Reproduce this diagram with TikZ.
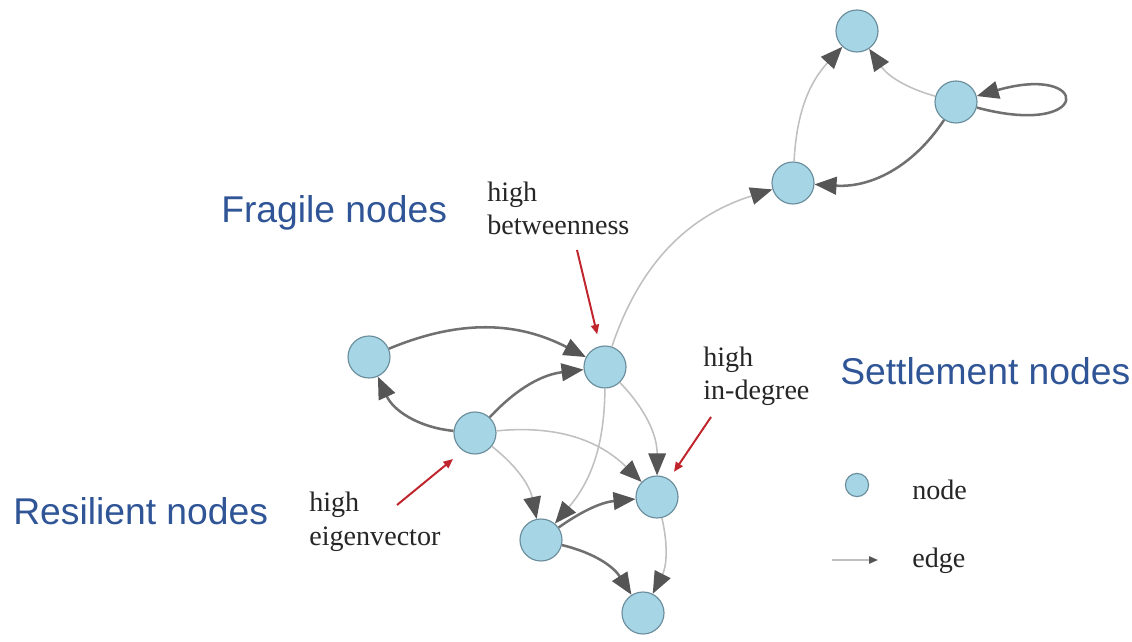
\documentclass[tikz,border=0pt]{standalone}
\usepackage{fontspec}
\setmainfont{Liberation Serif}
\newfontfamily\groupfont{Liberation Sans}
\usetikzlibrary{arrows.meta, positioning}
\definecolor{nodeblue}{RGB}{166, 213, 229}
\definecolor{nodeline}{RGB}{105, 140, 155}
\definecolor{groupblue}{RGB}{47, 85, 151}
\definecolor{strongedge}{RGB}{112, 112, 112}
\definecolor{weakedge}{RGB}{192, 192, 192}
\definecolor{tipgray}{RGB}{85, 85, 85}
\definecolor{pointred}{RGB}{192, 36, 44}

\begin{document}
\begin{tikzpicture}[
    x=0.025cm, y=-0.025cm,
    vertex/.style={circle, draw=nodeline, fill=nodeblue, line width=0.8pt, inner sep=0pt, minimum size=1.05cm},
    strong/.style={draw=strongedge, line width=1.8pt, -{Triangle[length=0.55cm, width=0.44cm, color=tipgray]}},
    weak/.style={draw=weakedge, line width=1.1pt, -{Triangle[length=0.55cm, width=0.44cm, color=tipgray]}},
    pointer/.style={draw=pointred, line width=1.4pt, -{Triangle[length=0.24cm, width=0.2cm]}},
    group/.style={font=\groupfont\fontsize{26.5}{31}\selectfont, text=groupblue, inner sep=0pt, anchor=base west},
    note/.style={font=\fontsize{20}{23.5}\selectfont, text=black!85, align=left, inner sep=0pt, anchor=base west}
]
\useasboundingbox (0,0) rectangle (1132,642);
\fill[white] (0,0) rectangle (1132,642);

% network
\node (tl) [vertex] at (369,357) {};
\node (btw) [vertex] at (605,367) {};
\node (eig) [vertex] at (475,433) {};
\node (indeg) [vertex] at (657,497) {};
\node (lo) [vertex] at (541,540) {};
\node (bot) [vertex] at (643,613) {};
\node (mid) [vertex] at (793,183) {};
\node (top) [vertex] at (857,31) {};
\node (rt) [vertex] at (956,102) {};

\draw [strong] (tl) to[bend left=25] (btw);
\draw [strong] (eig) to[bend left=30] (tl);
\draw [strong] (eig) to[bend left=20] (btw);
\draw [weak] (eig) to[bend left=25] (indeg);
\draw [weak] (eig) to[bend left=20] (lo);
\draw [weak] (btw) to[bend left=20] (lo);
\draw [weak] (btw) to[bend left=22] (indeg);
\draw [strong] (lo) to[bend left=15] (indeg);
\draw [strong] (lo) to[bend left=22] (bot);
\draw [weak] (indeg) to[bend left=20] (bot);
\draw [weak] (btw) to[bend left=27] (mid);
\draw [weak] (mid) to[bend left=20] (top);
\draw [weak] (rt) to[bend left=20] (top);
\draw [strong] (rt) to[bend left=30] (mid);
\draw [strong] (rt) to[out=-15, in=16, min distance=3cm] (rt);

% centrality notes
\node (betweenness) [note] at (487,235) {high\\betweenness};
\node (indegree) [note] at (703,400) {high\\in-degree};
\node (eigenvector) [note] at (309,545) {high\\eigenvector};
\coordinate (btwtail) at (577,250);
\coordinate (indegtail) at (711,417);
\coordinate (eigtail) at (397,505);
\draw [pointer, shorten >=0.3cm] (btwtail) -- (btw);
\draw [pointer, shorten >=0.22cm] (indegtail) -- (indeg);
\draw [pointer, shorten >=0.32cm] (eigtail) -- (eig.236);

% node groups
\node (fragile) [group] at (221,223) {Fragile nodes};
\node (settlement) [group] at (840,385) {Settlement nodes};
\node (resilient) [group] at (13,525) {Resilient nodes};

% legend
\node (keynode) [vertex, minimum size=0.58cm] at (857,485) {};
\node (nodelbl) [note] at (912,500) {node};
\node (edgelbl) [note] at (912,567) {edge};
\coordinate (keytail) at (832,560);
\draw [draw=weakedge, line width=1.1pt, -{Triangle[length=0.22cm, width=0.18cm, color=tipgray]}, shorten >=0.85cm] (keytail) -- (keytail -| edgelbl.west);

\end{tikzpicture}
\end{document}
